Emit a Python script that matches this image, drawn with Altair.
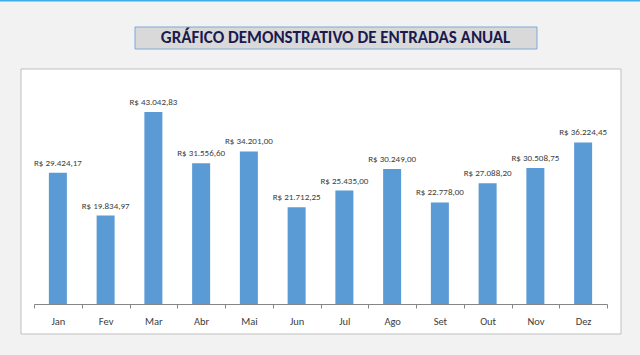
import altair as alt
import pandas as pd

months = ["Jan", "Fev", "Mar", "Abr", "Mai", "Jun", "Jul", "Ago", "Set", "Out", "Nov", "Dez"]
values = [29424.17, 19834.97, 43042.83, 31556.60, 34201.00, 21712.25,
          25435.00, 30249.00, 22778.00, 27088.20, 30508.75, 36224.45]
title_text = "GRÁFICO DEMONSTRATIVO DE ENTRADAS ANUAL"


def brl(v):
    s = f"{v:,.2f}".replace(",", "X").replace(".", ",").replace("X", ".")
    return "R$ " + s


df = pd.DataFrame({"mes": months, "valor": values, "rotulo": [brl(v) for v in values]})

FONT = "Carlito, Liberation Sans Narrow, Open Sans, sans-serif"

x = alt.X("mes:N", sort=months, title=None,
          scale=alt.Scale(paddingInner=0, paddingOuter=0),
          axis=alt.Axis(labelAngle=0, tickBand="extent", domainColor="#868686",
                        tickColor="#868686", tickSize=4, labelPadding=8, zindex=2,
                        labelFontSize=10.5, labelColor="#404040", labelFont=FONT))
y = alt.Y("valor:Q", title=None, scale=alt.Scale(domain=[0, 50000]), axis=None)

base = alt.Chart(df)

panel = alt.Chart(pd.DataFrame({"k": [0]})).mark_rect(
    fill="white", stroke="#bfbfbf", strokeWidth=1
).encode(x=alt.value(-13), x2=alt.value(587), y=alt.value(-12), y2=alt.value(253))

topline = alt.Chart(pd.DataFrame({"k": [0]})).mark_rect(
    fill="#3eaee8"
).encode(x=alt.value(-34), x2=alt.value(606), y=alt.value(-81), y2=alt.value(-79.5))

titlebox = alt.Chart(pd.DataFrame({"k": [0]})).mark_rect(
    fill="#d9d9d9", stroke="#7fa9d6", strokeWidth=1
).encode(x=alt.value(101), x2=alt.value(503), y=alt.value(-54), y2=alt.value(-32))

titletxt = alt.Chart(pd.DataFrame({"t": [title_text]})).mark_text(
    font=FONT, fontSize=17, fontWeight="bold", color="#1a1a4e", align="center", baseline="middle"
).encode(x=alt.value(301.5), y=alt.value(-43), text="t:N")

bars = base.mark_bar(color="#5b9bd5", size=18).encode(x=x, y=y)

labels = base.mark_text(
    font=FONT, fontSize=9, color="#404040", baseline="bottom", dy=-5
).encode(x=x, y=y, text="rotulo:N")

chart = alt.layer(panel, topline, titlebox, titletxt, bars, labels).properties(
    width=573, height=223,
    padding={"left": 34, "top": 81, "right": 33, "bottom": 51},
    autosize=alt.AutoSizeParams(type="none"),
    background="#f2f2f2",
).configure_view(stroke=None)

chart.save("out.html", embed_options={"renderer": "svg", "actions": False})
